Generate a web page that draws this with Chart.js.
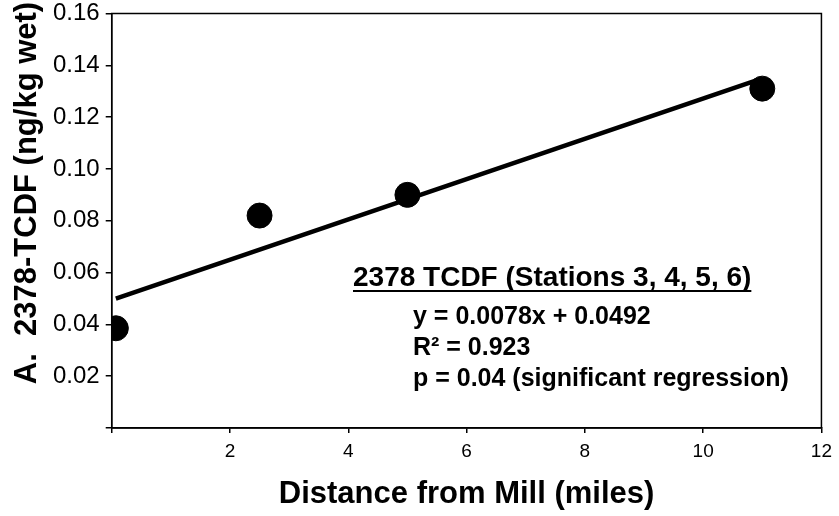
<!DOCTYPE html>
<html>
<head>
<meta charset="utf-8">
<script src="https://cdn.jsdelivr.net/npm/chart.js@4"></script>
<style>
  html, body { margin: 0; padding: 0; background: #fff; }
  #wrap { width: 839px; height: 516px; }
</style>
</head>
<body>
<div id="wrap"><canvas id="scatterChart" width="839" height="516"></canvas></div>
<script>
// station data
var distance = [0.07, 2.5, 5, 11];
var tcdf = [0.0385, 0.082, 0.090, 0.131];
// regression line end points
var fitX = [0.07, 11];
var fitY = [0.0499, 0.1350];

var yTitle = 'A.  2378-TCDF (ng/kg wet)';
var noteTitle = '2378 TCDF (Stations 3, 4, 5, 6)';
var noteLines = ['y = 0.0078x + 0.0492', 'R\u00B2 = 0.923', 'p = 0.04 (significant regression)'];

var boxPlugin = {
	id: 'boxPlugin',
	afterDraw: function(chart) {
		var ctx = chart.ctx, a = chart.chartArea;
		ctx.save();
		ctx.strokeStyle = '#000';
		ctx.lineWidth = 1.5;
		ctx.strokeRect(a.left, a.top, a.right - a.left, a.bottom - a.top);

		ctx.fillStyle = '#000';
		// y axis title, drawn by hand so it can sit a bit above centre like the original
		ctx.save();
		ctx.translate(27, 193);
		ctx.rotate(-Math.PI / 2);
		ctx.textAlign = 'center';
		ctx.textBaseline = 'middle';
		ctx.font = 'bold 31px "Liberation Sans", Arial, sans-serif';
		ctx.fillText(yTitle, 0, 0);
		ctx.restore();

		ctx.textBaseline = 'alphabetic';
		ctx.font = 'bold 28px "Liberation Sans", Arial, sans-serif';
		ctx.fillText(noteTitle, 353, 286);
		var w = ctx.measureText(noteTitle).width;
		ctx.lineWidth = 2;
		ctx.beginPath();
		ctx.moveTo(353, 291);
		ctx.lineTo(353 + w, 291);
		ctx.stroke();

		ctx.font = 'bold 25px "Liberation Sans", Arial, sans-serif';
		for (var i = 0; i < noteLines.length; i++)
			ctx.fillText(noteLines[i], 413, 324 + i * 31);
		ctx.restore();
	}
};

window.onload = function() {
	var ctx = document.getElementById('scatterChart').getContext('2d');
	var chart = new Chart(ctx, {
		type: 'scatter',
		data: {
			datasets: [{
				label: 'Regression',
				type: 'line',
				data: fitX.map(function(x, i) { return { x: x, y: fitY[i] }; }),
				borderColor: '#000',
				borderWidth: 4.5,
				pointRadius: 0,
				fill: false
			}, {
				label: '2378-TCDF',
				data: distance.map(function(x, i) { return { x: x, y: tcdf[i] }; }),
				backgroundColor: '#000',
				borderColor: '#000',
				pointRadius: 12.5,
				pointHoverRadius: 12.5
			}]
		},
		options: {
			responsive: false,
			animation: false,
			layout: { padding: { top: 0, right: 16, left: 47, bottom: 3 } },
			plugins: {
				legend: { display: false },
				tooltip: { enabled: false }
			},
			scales: {
				x: {
					type: 'linear',
					min: 0,
					max: 12,
					ticks: {
						stepSize: 2,
						color: '#000',
						font: { family: '"Liberation Sans", Arial', size: 19 },
						padding: 7,
						callback: function(v) { return v === 0 ? '' : v; }
					},
					grid: { drawOnChartArea: false, tickLength: 5, color: '#000', lineWidth: 1.5 },
					border: { color: '#000', width: 1.5 },
					title: {
						display: true,
						text: 'Distance from Mill (miles)',
						color: '#000',
						font: { family: '"Liberation Sans", Arial', size: 31, weight: 'bold' },
						padding: { top: 6, bottom: 0 }
					}
				},
				y: {
					min: 0,
					max: 0.16,
					afterFit: function(scale) { scale.paddingTop = 13; },
					ticks: {
						stepSize: 0.02,
						color: '#000',
						font: { family: '"Liberation Sans", Arial', size: 24, lineHeight: 1 },
						padding: 6,
						callback: function(v) { return v === 0 ? '' : v.toFixed(2); }
					},
					grid: { drawOnChartArea: false, tickLength: 6, color: '#000', lineWidth: 1.5 },
					border: { color: '#000', width: 1.5 }
				}
			}
		},
		plugins: [boxPlugin]
	});
}
</script>
</body>
</html>
